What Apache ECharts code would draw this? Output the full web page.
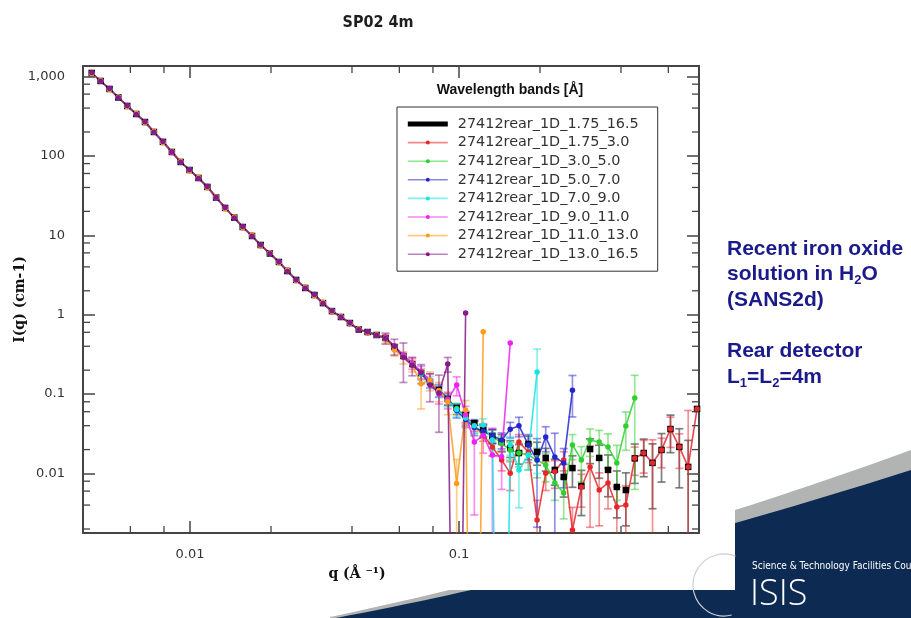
<!DOCTYPE html>
<html>
<head>
<meta charset="utf-8">
<title>SP02 4m</title>
<script src="https://cdn.jsdelivr.net/npm/echarts@6/dist/echarts.min.js"></script>
<style>
  html, body { margin: 0; padding: 0; background: #ffffff; }
  #chart { width: 911px; height: 618px; }
</style>
</head>
<body>
<div id="chart"></div>
<script>
// Momentum transfer bins q (Å^-1), shared by every wavelength band
const qValues = [
  0.00431, 0.00465, 0.00502, 0.00541, 0.00584, 0.00631, 0.00680, 0.00734, 0.00793, 0.00856,
  0.00923, 0.00996, 0.01075, 0.0116, 0.0125, 0.0135, 0.0146, 0.0157, 0.0170, 0.0183,
  0.0198, 0.0214, 0.0230, 0.0248, 0.0268, 0.0290, 0.0312, 0.0337, 0.0364, 0.0393,
  0.0424, 0.0457, 0.0494, 0.0533, 0.0575, 0.0621, 0.0670, 0.0723, 0.0780, 0.0842,
  0.0908, 0.0980, 0.1058, 0.114, 0.123, 0.133, 0.144, 0.155, 0.167, 0.181,
  0.195, 0.210, 0.227, 0.245, 0.264, 0.285, 0.307, 0.332, 0.358, 0.386,
  0.417, 0.450, 0.486, 0.524, 0.566, 0.611, 0.659, 0.711, 0.767
];

// I(q) in cm^-1 per wavelength band, aligned with qValues (null = bin not covered,
// 0 = zero/negative intensity, which lies below the log axis)
const iBand_175_165 = [
  1107, 878, 696, 544, 425, 337, 267, 200, 150, 112,
  83.8, 66.4, 52.7, 40.6, 29.9, 22.1, 16.7, 12.7, 9.8, 7.55,
  5.90, 4.61, 3.55, 2.74, 2.17, 1.77, 1.40, 1.11, 0.935, 0.785,
  0.651, 0.605, 0.555, 0.509, 0.392, 0.302, 0.239, 0.184, 0.142, 0.113,
  0.0867, 0.0668, 0.0546, 0.0433, 0.0353, 0.0297, 0.0249, 0.0209, 0.0181, 0.0235,
  0.0187, 0.0157, 0.0111, 0.00904, 0.0117, 0.00695, 0.0203, 0.0157, 0.0111, 0.00676,
  0.00619, 0.0155, 0.0181, 0.0136, 0.0198, 0.0363, 0.0216, 0.0121, 0.065
];
const iBand_175_30 = [
  null, null, null, null, null, null, null, null, 152, 110,
  85, 65.5, 53.5, 40.0, 30.5, 21.8, 17.0, 12.5, 10.0, 7.4,
  6.0, 4.55, 3.62, 2.70, 2.20, 1.74, 1.42, 1.09, 0.95, 0.77,
  0.66, 0.59, 0.56, 0.50, 0.40, 0.30, 0.235, 0.19, 0.14, 0.11,
  0.088, 0.065, 0.052, 0.040, 0.0305, 0.0216, 0.0148, 0.0101, 0.0249, 0.0187,
  0.00259, 0.0101, 0.0105, 0.0148, 0.00194, 0.00676, 0.0121, 0.00619, 0.00759, 0.00378,
  0.00401, 0.0155, 0.0181, 0.0136, 0.0198, 0.0363, 0.0216, 0.0121, 0.065
];
const iBand_30_50 = [
  null, null, null, 546, 424, 338, 266, 200, 151, 112.5,
  83.5, 66.5, 52.8, 40.5, 30, 22.0, 16.7, 12.7, 9.8, 7.5,
  5.9, 4.62, 3.55, 2.74, 2.17, 1.77, 1.40, 1.11, 0.935, 0.785,
  0.65, 0.605, 0.555, 0.51, 0.39, 0.31, 0.24, 0.18, 0.145, 0.11,
  0.085, 0.066, 0.050, 0.038, 0.033, 0.030, 0.024, 0.0198, 0.0181, 0.0171,
  0.0148, 0.0128, 0.00759, 0.00568, 0.0229, 0.0148, 0.0264, 0.0249, 0.0216, 0.0136,
  0.0396, 0.0893
];
const iBand_50_70 = [
  null, 880, 698, 542, 426, 336, 268, 201, 149, 112,
  84, 66.2, 52.5, 40.8, 29.8, 22.2, 16.6, 12.7, 9.75, 7.55,
  5.92, 4.6, 3.56, 2.74, 2.17, 1.78, 1.40, 1.11, 0.94, 0.78,
  0.65, 0.61, 0.555, 0.50, 0.39, 0.30, 0.24, 0.185, 0.14, 0.112,
  0.087, 0.062, 0.048, 0.038, 0.034, 0.030, 0.0264, 0.036, 0.040, 0.0229,
  0.0148, 0.0288, 0.0161, 0.0136, 0.1115
];
const iBand_70_90 = [
  1105, 875, 690, 545, 422, 339, 265, 199, 149, 113,
  83.5, 66.8, 52.8, 40.3, 30, 22.0, 16.8, 12.6, 9.85, 7.6,
  5.88, 4.62, 3.54, 2.73, 2.18, 1.77, 1.40, 1.12, 0.935, 0.78,
  0.655, 0.605, 0.55, 0.51, 0.395, 0.305, 0.24, 0.18, 0.142, 0.11,
  0.084, 0.064, 0.050, 0.040, 0.0408, 0.0264, 0, 0.0229, 0.0111, 0.0171,
  0.19
];
const iBand_90_110 = [
  1100, 880, 700, 548, 428, 335, 268, 201, 151, 111,
  84.5, 66, 52.3, 41, 29.6, 22.3, 16.6, 12.8, 9.9, 7.5,
  5.95, 4.6, 3.58, 2.72, 2.18, 1.76, 1.41, 1.11, 0.93, 0.79,
  0.65, 0.60, 0.555, 0.52, 0.40, 0.31, 0.245, 0.19, 0.15, 0.10,
  0.085, 0.13, 0.055, 0.025, 0.030, 0.0171, 0.0163, 0.44
];
const iBand_110_130 = [
  1090, 890, 685, 552, 418, 342, 262, 204, 147, 114,
  85, 65, 53.5, 40, 30.5, 21.7, 17.0, 12.5, 10.0, 7.45,
  6.0, 4.55, 3.6, 2.7, 2.2, 1.75, 1.42, 1.10, 0.94, 0.78,
  0.66, 0.60, 0.56, 0.50, 0.36, 0.29, 0.23, 0.135, 0.15, 0.11,
  0.08, 0.0075, 0.063, 0, 0.611
];
const iBand_130_165 = [
  1120, 870, 705, 540, 430, 333, 270, 198, 152, 113,
  83, 67, 52, 41, 30.2, 22.4, 16.5, 12.9, 9.7, 7.6,
  5.85, 4.65, 3.5, 2.76, 2.15, 1.79, 1.38, 1.12, 0.93, 0.79,
  0.645, 0.61, 0.55, 0.505, 0.40, 0.29, 0.23, 0.185, 0.13, 0.103,
  0.239, 0, 1.05
];

// Uncertainties (cm^-1), starting at bin index ERR_FROM
const ERR_FROM = 33;
const eBand_175_165 = [
  null, null, null, null, null, null, null, null, null, null, null,
  0.006, 0.006, 0.006, 0.005, 0.005, 0.006, 0.006, 0.005, 0.004, 0.004,
  0.005, 0.004, 0.007, 0.007, 0.006, 0.004, 0.004,
  0.008, 0.009, 0.010, 0.012, 0.018, 0.015, 0.014, null
];
const eBand_175_30 = [
  null, null, null, null, null, null, null, null,
  0.01, 0.008, 0.006, 0.005, 0.005, 0.004, 0.004, 0.006, 0.005, 0.002,
  0.004, 0.004, 0.004, 0.0018, 0.003, 0.010, 0.004, 0.004, 0.003, 0.003,
  0.006, 0.008, 0.013, 0.008, 0.015, 0.010, 0.05, null
];
const eBand_30_50 = [
  null, null, null, null, null, null, null,
  0.012, 0.01, 0.008, 0.006, 0.005, 0.005, 0.005, 0.005, 0.006, 0.006, 0.006,
  0.005, 0.003, 0.003, 0.008, 0.007, 0.010, 0.010, 0.010, 0.009, 0.02, 0.083
];
const eBand_50_70 = [
  null, null, null, null, null, null,
  0.02, 0.015, 0.012, 0.01, 0.008, 0.006, 0.006, 0.006, 0.008, 0.011,
  0.008, 0.0127, 0.01, 0.016, 0.007, 0.06
];
const eBand_70_90 = [
  null, null, null, null,
  0.03, 0.025, 0.02, 0.015, 0.012, 0.01, 0.008, 0.008, 0.006, null,
  0.006, 0.0074, 0.006, 0.18
];
const eBand_90_110 = [
  null, null, null,
  0.04, 0.035, 0.03, 0.025, 0.02, 0.035, 0.015, 0.022, 0.012, 0.02, 0.01, null
];
const eBand_110_130 = [
  0.06, 0.06, 0.05, 0.04, 0.07, 0.04, 0.03, 0.025, 0.0075, 0.02, null, null
];
const eBand_130_165 = [
  0.08, 0.09, 0.15, 0.06, 0.05, 0.05, 0.07, 0.05, null, null
];

const bandNames = [
  '27412rear_1D_1.75_16.5', '27412rear_1D_1.75_3.0', '27412rear_1D_3.0_5.0',
  '27412rear_1D_5.0_7.0', '27412rear_1D_7.0_9.0', '27412rear_1D_9.0_11.0',
  '27412rear_1D_11.0_13.0', '27412rear_1D_13.0_16.5'
];
const bandValues = [iBand_175_165, iBand_175_30, iBand_30_50, iBand_50_70,
                    iBand_70_90, iBand_90_110, iBand_110_130, iBand_130_165];
const bandErrors = [eBand_175_165, eBand_175_30, eBand_30_50, eBand_50_70,
                    eBand_70_90, eBand_90_110, eBand_110_130, eBand_130_165];
const bandColors = ['#000000', '#e8262b', '#2fcf2f', '#2525d0',
                    '#17e3e3', '#f020f0', '#ff9a1a', '#851a88'];

const X_MIN = 0.004, X_MAX = 0.78;
const Y_MIN = 0.00178, Y_MAX = 1355;
const LOG_FLOOR = 1e-9;   // stand-in for non-positive intensities on the log axis
const NAVY = '#1a1a8a';

function rgba(hex, a) {
  const n = parseInt(hex.slice(1), 16);
  return 'rgba(' + (n >> 16 & 255) + ',' + (n >> 8 & 255) + ',' + (n & 255) + ',' + a + ')';
}

function toPoints(vals) {
  const pts = [];
  vals.forEach((v, i) => {
    if (v !== null) pts.push([qValues[i], v > 0 ? v : LOG_FLOOR]);
  });
  return pts;
}

function toErrorBars(vals, errs) {
  const out = [];
  errs.forEach((e, k) => {
    const i = ERR_FROM + k;
    const v = vals[i];
    if (e !== null && v !== null && v !== undefined && v > 0) out.push([qValues[i], v, e]);
  });
  return out;
}

// vertical error bar with caps; lower ends at or below zero run to the bottom of the plot
function errorBarRenderer(color) {
  return function (params, api) {
    const cs = params.coordSys;
    const q = api.value(0), v = api.value(1), e = api.value(2);
    const yBottom = cs.y + cs.height, yTop = cs.y;
    const up = api.coord([q, v + e]);
    const x = up[0];
    const low = v - e;
    const lowY = low > 0 ? api.coord([q, low])[1] : yBottom + 5;
    const y0 = Math.max(up[1], yTop), y1 = Math.min(lowY, yBottom);
    const st = { stroke: color, lineWidth: 1.7 };
    const kids = [];
    if (y1 > y0) kids.push({ type: 'line', shape: { x1: x, y1: y0, x2: x, y2: y1 }, style: st });
    if (up[1] >= yTop && up[1] <= yBottom)
      kids.push({ type: 'line', shape: { x1: x - 4, y1: up[1], x2: x + 4, y2: up[1] }, style: st });
    if (low > 0 && lowY <= yBottom && lowY >= yTop)
      kids.push({ type: 'line', shape: { x1: x - 4, y1: lowY, x2: x + 4, y2: lowY }, style: st });
    return { type: 'group', children: kids };
  };
}

// minor ticks at 2, 4, 6, 8 x 10^k on all four sides of the frame
const minorMantissas = [2, 4, 6, 8];
function minorTickRenderer(params, api) {
  const cs = params.coordSys;
  const L = 7;
  const st = { stroke: '#444', lineWidth: 1.3 };
  const kids = [];
  for (let k = -4; k <= 4; k++) {
    minorMantissas.forEach(m => {
      const val = m * Math.pow(10, k);
      if (val > X_MIN * 1.01 && val < X_MAX * 0.99) {
        const x = api.coord([val, 1])[0];
        kids.push({ type: 'line', shape: { x1: x, y1: cs.y + cs.height, x2: x, y2: cs.y + cs.height - L }, style: st });
        kids.push({ type: 'line', shape: { x1: x, y1: cs.y, x2: x, y2: cs.y + L }, style: st });
      }
      if (val > Y_MIN * 1.01 && val < Y_MAX * 0.99) {
        const y = api.coord([0.1, val])[1];
        kids.push({ type: 'line', shape: { x1: cs.x, y1: y, x2: cs.x + L, y2: y }, style: st });
        kids.push({ type: 'line', shape: { x1: cs.x + cs.width, y1: y, x2: cs.x + cs.width - L, y2: y }, style: st });
      }
    });
  }
  return { type: 'group', children: kids };
}

function tickLabel(v) {
  const n = Number(v.toPrecision(6));
  return n >= 1000 ? n.toLocaleString('en-US') : String(n);
}

// outline of a quadratic sweep, sampled for a polygon
function sweepPoints(p0, c, p1, steps) {
  const pts = [];
  for (let s = 0; s <= steps; s++) {
    const t = s / steps, u = 1 - t;
    pts.push([u * u * p0[0] + 2 * u * t * c[0] + t * t * p1[0],
              u * u * p0[1] + 2 * u * t * c[1] + t * t * p1[1]]);
  }
  return pts;
}
const greySweep = sweepPoints([330, 617], [620, 556], [911, 450], 40).concat([[911, 618], [330, 618]]);
const navySweep = sweepPoints([336, 618], [610, 566], [911, 470], 40).concat([[911, 618]]);

const series = [];
bandNames.forEach((name, b) => {
  const color = bandColors[b];
  const combined = b === 0;
  series.push({
    type: 'custom',
    name: name + ' error',
    silent: true,
    clip: true,
    encode: { x: 0, y: 1 },
    renderItem: errorBarRenderer(combined ? 'rgba(95,95,95,0.8)' : rgba(color, 0.5)),
    data: toErrorBars(bandValues[b], bandErrors[b])
  });
  series.push({
    type: 'line',
    name: name,
    data: toPoints(bandValues[b]),
    clip: true,
    symbol: combined ? 'rect' : 'circle',
    symbolSize: combined ? 6.5 : 5.5,
    itemStyle: { color: color },
    lineStyle: { color: color, width: combined ? 0 : 1.6, opacity: combined ? 0 : 0.85 },
    emphasis: { disabled: true }
  });
});
series.push({
  type: 'custom',
  name: 'minor ticks',
  silent: true,
  renderItem: minorTickRenderer,
  data: [[0.1, 1]],
  z: 5
});

const axisBase = {
  type: 'log',
  logBase: 10,
  axisLine: { show: true, lineStyle: { color: '#444', width: 2 } },
  axisTick: { show: true, inside: true, length: 12, lineStyle: { color: '#444', width: 1.5 } },
  splitLine: { show: false },
  minorTick: { show: false },
  minorSplitLine: { show: false }
};
const labelFont = { color: '#333', fontFamily: 'DejaVu Sans', fontSize: 13 };
const nameFont = { color: '#111', fontFamily: 'DejaVu Serif', fontWeight: 'bold', fontSize: 14 };

const chart = echarts.init(document.getElementById('chart'), null, { renderer: 'canvas' });
chart.setOption({
  animation: false,
  backgroundColor: '#ffffff',
  grid: { left: 83, top: 66, width: 616, height: 467, containLabel: false, outerBoundsMode: 'none' },
  xAxis: [
    Object.assign({}, axisBase, {
      min: X_MIN, max: X_MAX, position: 'bottom',
      axisLabel: Object.assign({ margin: 15, showMinLabel: false, showMaxLabel: false, formatter: tickLabel }, labelFont),
      name: 'q (Å ⁻¹)', nameLocation: 'middle', nameGap: 34, nameMoveOverlap: false,
      nameTextStyle: Object.assign({ padding: [0, 68, 0, 0] }, nameFont)
    }),
    Object.assign({}, axisBase, { min: X_MIN, max: X_MAX, position: 'top', axisLabel: { show: false } })
  ],
  yAxis: [
    Object.assign({}, axisBase, {
      min: Y_MIN, max: Y_MAX, position: 'left',
      axisLabel: Object.assign({ margin: 18, showMinLabel: false, showMaxLabel: false, formatter: tickLabel }, labelFont),
      name: 'I(q) (cm-1)', nameLocation: 'middle', nameGap: 56, nameMoveOverlap: false,
      nameTextStyle: nameFont
    }),
    Object.assign({}, axisBase, { min: Y_MIN, max: Y_MAX, position: 'right', axisLabel: { show: false } })
  ],
  legend: {
    orient: 'vertical',
    left: 397,
    top: 107,
    selectedMode: false,
    data: [{ name: bandNames[0], icon: 'path://M0,0H40V5H0Z' }].concat(bandNames.slice(1)),
    itemWidth: 40,
    itemHeight: 5,
    itemGap: 4.6,
    padding: [10, 19, 10, 10],
    backgroundColor: '#ffffff',
    borderColor: '#333',
    borderWidth: 1,
    lineStyle: { width: 1.6, opacity: 0.55 },
    textStyle: { color: '#333', fontFamily: 'DejaVu Sans', fontSize: 14.4, padding: [0, 0, 0, 5] }
  },
  graphic: [
    // slide backdrop: grey sweep and navy band in the lower right
    { type: 'polygon', z: -10, silent: true,
      shape: { points: greySweep }, style: { fill: '#b1b4b2' } },
    { type: 'polygon', z: -9, silent: true,
      shape: { points: navySweep }, style: { fill: '#0d2a52' } },
    { type: 'rect', z: -8, silent: true,
      shape: { x: 0, y: 0, width: 735, height: 590 },
      style: { fill: '#ffffff' } },
    { type: 'arc', z: 1, silent: true,
      shape: { cx: 724, cy: 585, r: 31, startAngle: Math.PI * 0.42, endAngle: Math.PI * 1.62 },
      style: { stroke: '#c9ced6', lineWidth: 1.2, fill: null } },
    { type: 'text', z: 1, silent: true, x: 752, y: 566,
      style: { text: 'Science & Technology Facilities Council', fill: '#ffffff',
               font: '10px "Liberation Sans Narrow", "DejaVu Sans Condensed", sans-serif',
               verticalAlign: 'middle' } },
    { type: 'text', z: 1, silent: true, x: 750, y: 613,
      style: { text: 'ISIS', fill: '#ffffff', font: '300 36px "Open Sans", sans-serif',
               verticalAlign: 'bottom' } },
    // chart title
    { type: 'text', silent: true, x: 378, y: 23,
      style: { text: 'SP02 4m', fill: '#1e1e1e',
               font: 'bold 16px "DejaVu Sans Condensed", "Liberation Sans Narrow", sans-serif',
               align: 'center', verticalAlign: 'middle' } },
    // legend heading
    { type: 'text', silent: true, x: 510, y: 90,
      style: { text: 'Wavelength bands [Å]', fill: '#111',
               font: 'bold 14px "Liberation Sans", Arial, sans-serif',
               align: 'center', verticalAlign: 'middle' } },
    // sample notes
    { type: 'text', silent: true, x: 727, y: 236.5,
      style: {
        text: '{b|Recent iron oxide}\n{b|solution in H}{s|2}{b|O}\n{b|(SANS2d)}',
        verticalAlign: 'top',
        rich: {
          b: { fill: NAVY, font: 'bold 21px "Liberation Sans", Arial, sans-serif', lineHeight: 25.3 },
          s: { fill: NAVY, font: 'bold 13px "Liberation Sans", Arial, sans-serif', lineHeight: 13, verticalAlign: 'bottom' }
        }
      } },
    { type: 'text', silent: true, x: 727, y: 339,
      style: {
        text: '{b|Rear detector}\n{b|L}{s|1}{b|=L}{s|2}{b|=4m}',
        verticalAlign: 'top',
        rich: {
          b: { fill: NAVY, font: 'bold 21px "Liberation Sans", Arial, sans-serif', lineHeight: 25.3 },
          s: { fill: NAVY, font: 'bold 13px "Liberation Sans", Arial, sans-serif', lineHeight: 13, verticalAlign: 'bottom' }
        }
      } }
  ],
  series: series
});
</script>
</body>
</html>
